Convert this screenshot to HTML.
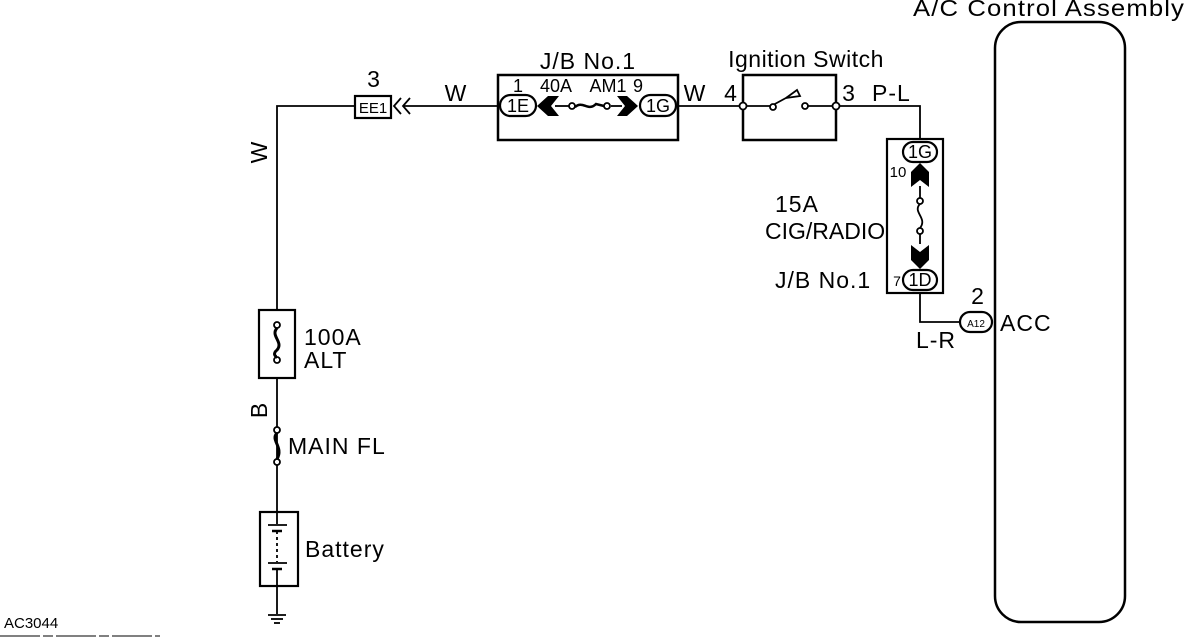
<!DOCTYPE html>
<html><head><meta charset="utf-8"><style>
html,body{margin:0;padding:0;background:#fff;}
svg{display:block}
text{font-family:"Liberation Sans",Arial,sans-serif;fill:#000;}
</style></head><body>
<svg width="1200" height="640" viewBox="0 0 1200 640" xmlns="http://www.w3.org/2000/svg">
<g stroke="#000" stroke-width="1.8" fill="none">
<polyline points="355,106 277,106 277,310"/>
<line x1="277" y1="378" x2="277" y2="512"/>
<line x1="277" y1="586" x2="277" y2="614"/>
<rect x="355" y="96" width="36" height="22" stroke-width="2.2"/>
<polyline points="401,98 394,106 401,114"/>
<polyline points="410,98 403,106 410,114"/>
<line x1="403" y1="106" x2="498" y2="106"/>
<rect x="498" y="75" width="180" height="65" stroke-width="2.5"/>
<rect x="500" y="95" width="36" height="21" rx="10.5" stroke-width="2.2"/>
<rect x="640" y="95" width="36" height="21" rx="10.5" stroke-width="2.2"/>
<line x1="555" y1="106" x2="569" y2="106"/>
<line x1="611" y1="106" x2="622" y2="106"/>
<circle cx="572" cy="106" r="3" fill="#fff"/>
<circle cx="607" cy="106" r="3" fill="#fff"/>
<path d="M575,107 C583,100 588,112 596,104 L604,106" stroke-width="2.5"/>
<line x1="678" y1="106" x2="743" y2="106"/>
<rect x="743" y="75" width="93" height="65" stroke-width="2.5"/>
<line x1="743" y1="106" x2="770" y2="106"/>
<line x1="808" y1="106" x2="836" y2="106"/>
<line x1="773" y1="105" x2="797" y2="92"/>
<polygon points="786,98 797,90 800,96" fill="#fff"/>
<circle cx="743" cy="106" r="3.5" fill="#fff"/>
<circle cx="836" cy="106" r="3.5" fill="#fff"/>
<circle cx="773" cy="107" r="3" fill="#fff"/>
<circle cx="805" cy="106" r="3" fill="#fff"/>
<polyline points="840,106 920,106 920,139"/>
<rect x="887" y="139" width="56" height="154" stroke-width="2.2"/>
<rect x="903" y="142" width="34" height="20" rx="10" stroke-width="2.2"/>
<rect x="903" y="270" width="34" height="20" rx="10" stroke-width="2.2"/>
<line x1="920" y1="186" x2="920" y2="198"/>
<line x1="920" y1="234" x2="920" y2="244"/>
<circle cx="920" cy="201" r="3" fill="#fff"/>
<circle cx="920" cy="231" r="3" fill="#fff"/>
<path d="M920,204 C912,212 928,218 920,228"/>
<polyline points="920,293 920,322 960,322"/>
<rect x="960" y="312" width="32" height="20" rx="10" stroke-width="2.2"/>
<rect x="995" y="22" width="130" height="600" rx="26" stroke-width="2.5"/>
<rect x="259" y="310" width="36" height="68" stroke-width="2.2"/>
<circle cx="277" cy="325" r="3" fill="#fff"/>
<circle cx="277" cy="360" r="3" fill="#fff"/>
<path d="M277,328 C270,336 284,342 277,350 C272,354 276,357 277,357" stroke-width="3"/>
<circle cx="277" cy="430" r="3" fill="#fff"/>
<circle cx="277" cy="462" r="3" fill="#fff"/>
<path d="M277,433 C270,440 284,447 277,459" stroke-width="3"/>
<rect x="260" y="512" width="38" height="74" stroke-width="2.2"/>
<line x1="277" y1="512" x2="277" y2="524"/>
<line x1="268" y1="525" x2="287" y2="525"/>
<line x1="272" y1="531" x2="282" y2="531" stroke-width="2.5"/>
<line x1="277" y1="531" x2="277" y2="562" stroke-dasharray="3,3"/>
<line x1="268" y1="563" x2="287" y2="563"/>
<line x1="272" y1="569" x2="282" y2="569" stroke-width="2.5"/>
<line x1="277" y1="569" x2="277" y2="586"/>
<line x1="268" y1="615" x2="286" y2="615"/>
<line x1="271" y1="619" x2="283" y2="619"/>
<line x1="274" y1="623" x2="280" y2="623"/>
<line x1="0" y1="636" x2="160" y2="636" stroke-width="1" stroke-dasharray="40,3,10,3"/>
</g>
<g fill="#000">
<polygon points="537,106 548,96 559,96 551,106 559,116 548,116"/>
<polygon points="638,106 627,96 617,96 625,106 617,116 627,116"/>
<polygon points="920,163 911,172 911,187 920,180 929,187 929,172"/>
<polygon points="920,269 911,260 911,245 920,252 929,245 929,260"/>
</g>
<g font-size="23" letter-spacing="1">
<text x="374" y="87" text-anchor="middle">3</text>
<text x="456" y="101" text-anchor="middle">W</text>
<text x="588" y="69" text-anchor="middle">J/B No.1</text>
<text x="806" y="67" text-anchor="middle" letter-spacing="0.5">Ignition Switch</text>
<text x="695" y="101" text-anchor="middle">W</text>
<text x="731" y="101" text-anchor="middle">4</text>
<text x="849" y="101" text-anchor="middle">3</text>
<text x="872" y="101">P-L</text>
<text x="913" y="16" textLength="272" lengthAdjust="spacingAndGlyphs">A/C Control Assembly</text>
<text x="775" y="212">15A</text>
<text x="765" y="239" letter-spacing="0">CIG/RADIO</text>
<text x="775" y="288">J/B No.1</text>
<text x="978" y="304" text-anchor="middle">2</text>
<text x="1000" y="331">ACC</text>
<text x="936" y="348" text-anchor="middle">L-R</text>
<text x="304" y="345">100A</text>
<text x="304" y="368">ALT</text>
<text x="288" y="454">MAIN FL</text>
<text x="305" y="557">Battery</text>
<text transform="translate(267,152) rotate(-90)" text-anchor="middle">W</text>
<text transform="translate(267,410) rotate(-90)" text-anchor="middle">B</text>
</g>
<g font-size="18">
<text x="518" y="92" text-anchor="middle">1</text>
<text x="556" y="92" text-anchor="middle">40A</text>
<text x="608" y="92" text-anchor="middle">AM1</text>
<text x="638" y="92" text-anchor="middle">9</text>
<text x="518" y="112" text-anchor="middle">1E</text>
<text x="658" y="112" text-anchor="middle">1G</text>
<text x="920" y="158" text-anchor="middle">1G</text>
<text x="920" y="286" text-anchor="middle">1D</text>
<text x="373" y="113" text-anchor="middle" font-size="15">EE1</text>
<text x="898" y="177" text-anchor="middle" font-size="15">10</text>
<text x="897" y="286" text-anchor="middle" font-size="14">7</text>
<text x="976" y="327" text-anchor="middle" font-size="10">A12</text>
<text x="4" y="628" font-size="15">AC3044</text>
</g>
</svg>
</body></html>
